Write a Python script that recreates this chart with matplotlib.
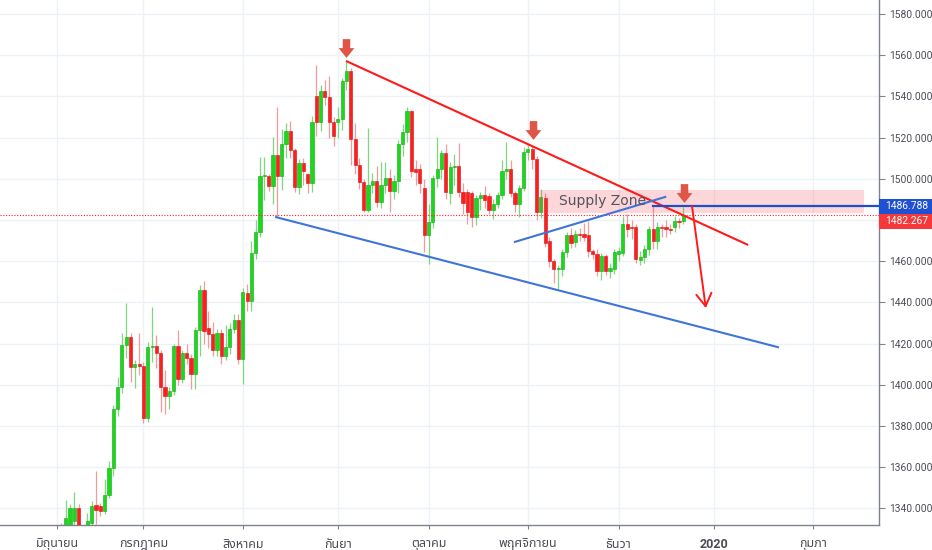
import matplotlib
matplotlib.use("Agg")
import matplotlib.pyplot as plt
import numpy as np
import pandas as pd
from matplotlib import font_manager
from matplotlib.ft2font import FT2Font
from matplotlib.path import Path
from matplotlib.patches import Rectangle
from matplotlib.transforms import blended_transform_factory

# ---------------- data ----------------
opens = [1305, 1327, 1324, 1331, 1334, 1340.4, 1327, 1328, 1333, 1341.7,
         1341.4, 1338.9, 1346.6, 1359.7, 1388.4, 1399.2, 1419.5, 1423.2, 1408.6, 1410.2,
         1409, 1383.8, 1418.4, 1418.9, 1415.3, 1399, 1394.6, 1397, 1418.9, 1402.7,
         1415.3, 1413.2, 1405.5, 1426.4, 1446, 1427.5, 1424.5, 1416.7, 1425.2, 1414,
         1418.4, 1427, 1431.3, 1412.7, 1444.7, 1440.7, 1464, 1474.2, 1501.2, 1501.6,
         1496.5, 1511.4, 1501.2, 1517, 1523, 1513.8, 1496, 1507.6, 1502.5, 1497.9,
         1540.2, 1527.7, 1542.4, 1539.7, 1527.5, 1527.5, 1529.2, 1547.3, 1552.3, 1519.2,
         1506.8, 1498.7, 1485.1, 1497, 1499, 1488.7, 1497, 1500.5, 1494, 1499,
         1517, 1522.6, 1532.8, 1505, 1505, 1495.5, 1472.6, 1479.1, 1500.2, 1505,
         1512.4, 1493.2, 1505.9, 1506.3, 1493.4, 1493.7, 1492.9, 1481.5, 1490.5, 1492,
         1491.6, 1484.8, 1488, 1492, 1503.8, 1504.6, 1492.9, 1488, 1495.7, 1512.9,
         1514.5, 1509.5, 1484, 1490.5, 1469.6, 1460.3, 1456.2, 1456.2, 1464.4, 1472.6,
         1469.3, 1473.4, 1473.4, 1472.6, 1465.2, 1463.6, 1455.4, 1462.7, 1455.4, 1456.2,
         1463.5, 1464.2, 1478, 1476.4, 1476.4, 1460.7, 1462.3, 1465.9, 1475.6, 1470,
         1476.7, 1476.4, 1475.8, 1476.4, 1479.7, 1479.7]
highs = [1328, 1333, 1344, 1342, 1348.2, 1342, 1331, 1338, 1343.8, 1358.4,
         1342.5, 1354.5, 1363, 1390, 1403.7, 1425, 1439.7, 1425, 1412, 1425,
         1411, 1421, 1437.8, 1424, 1417, 1407, 1399, 1420, 1426.5, 1417,
         1420, 1415, 1428, 1448.3, 1450.5, 1436, 1430.4, 1427, 1427, 1429.2,
         1430, 1434.6, 1434.6, 1447, 1449, 1470, 1479.8, 1510.6, 1510.6, 1502.5,
         1520.3, 1535, 1524, 1527, 1528, 1515, 1509.5, 1510, 1503, 1530.3,
         1555.4, 1545.5, 1548, 1550, 1530, 1534.8, 1549, 1557.5, 1554, 1527,
         1510, 1500, 1524.6, 1503, 1506, 1508, 1508, 1505, 1502, 1519,
         1526.6, 1535, 1533.5, 1509, 1507, 1500, 1488, 1502, 1520.5, 1514,
         1517, 1508.3, 1512, 1517.2, 1498, 1495, 1494, 1492, 1493.5, 1496.7,
         1493, 1490, 1493.5, 1509, 1518, 1509, 1494, 1497, 1515.6, 1516.8,
         1516, 1511, 1495, 1493, 1472, 1461, 1458, 1466, 1474, 1476,
         1475, 1476, 1478.5, 1479.7, 1466, 1466, 1464, 1463.5, 1459, 1466,
         1467, 1482, 1483, 1480, 1478, 1465, 1468, 1477, 1486.788, 1479,
         1478, 1480, 1478, 1482, 1481, 1486.2]
lows = [1304, 1320, 1322, 1329, 1331, 1324, 1321, 1326, 1330, 1332.4,
        1336.5, 1337.5, 1345, 1356, 1385, 1396, 1413, 1401.3, 1398.4, 1405,
        1381.4, 1382, 1411, 1408, 1386.8, 1386, 1388.5, 1395, 1400, 1401,
        1410, 1398, 1398, 1414, 1420, 1418, 1414, 1414, 1410, 1412,
        1415, 1425, 1410, 1400.5, 1436, 1436, 1461, 1472, 1489.5, 1494,
        1488, 1481.4, 1494.4, 1510, 1510, 1493.5, 1492.7, 1497, 1493, 1493.8,
        1521, 1523, 1536, 1520, 1516, 1520, 1523.5, 1543, 1506.5, 1502.5,
        1495, 1484, 1484, 1493, 1486.5, 1486, 1493, 1483.9, 1490, 1493,
        1511, 1518, 1501, 1497, 1493, 1464.4, 1458.8, 1476, 1496, 1500,
        1490, 1488, 1497, 1491.3, 1483, 1478, 1476.7, 1477.5, 1485, 1486,
        1483, 1480.7, 1486, 1490, 1500, 1491, 1484, 1481.5, 1494, 1509,
        1505, 1480, 1481, 1467, 1457, 1449.6, 1446.4, 1453, 1462, 1466.5,
        1467, 1470, 1470, 1462, 1461, 1453, 1451, 1453.5, 1452, 1454,
        1460, 1462.5, 1472, 1471, 1459, 1458, 1459, 1463, 1466, 1466,
        1472, 1472, 1473, 1474, 1476, 1478]
closes = [1327, 1324, 1335.5, 1340, 1340.4, 1327, 1327.5, 1333.8, 1341.4, 1339.3,
          1338.9, 1346.6, 1359.7, 1388.4, 1399.2, 1419.5, 1423.2, 1408.6, 1410.2, 1409,
          1383.8, 1418.4, 1418.9, 1415.3, 1399, 1394.6, 1397, 1418.9, 1402.7, 1415.3,
          1413.2, 1405.5, 1426.4, 1446.2, 1426, 1424.5, 1416.7, 1425.2, 1414, 1418.4,
          1427, 1431.3, 1412.7, 1445.1, 1440.7, 1464, 1474.2, 1501.2, 1501.6, 1496.5,
          1511.4, 1501.2, 1517, 1523, 1513.8, 1496, 1507.6, 1504, 1497.9, 1527.7,
          1527.7, 1542.4, 1539.7, 1527.5, 1520.7, 1529.2, 1547.3, 1552.3, 1519.5, 1506.8,
          1498.7, 1485.1, 1497, 1499, 1488.7, 1497, 1500.5, 1494, 1499, 1517,
          1522.6, 1532.8, 1503.6, 1503.3, 1497.8, 1472.5, 1479.1, 1500.2, 1505, 1512.4,
          1493.7, 1505.9, 1506.3, 1493.4, 1488.5, 1484, 1481.5, 1490.5, 1492, 1489.6,
          1484.8, 1488, 1492, 1503.8, 1504.6, 1492.9, 1488, 1495.7, 1512.9, 1514.5,
          1509.5, 1484, 1491, 1469, 1460.3, 1456.2, 1456.8, 1464.4, 1472.6, 1469,
          1473.4, 1472.6, 1471.8, 1465.2, 1463.6, 1455.4, 1462.7, 1455.4, 1456.5, 1464.4,
          1465, 1478, 1475.6, 1475.9, 1461, 1462.3, 1465.9, 1475.6, 1470, 1476.7,
          1476.2, 1475.8, 1475.2, 1479.7, 1478.9, 1482.267]

start_date = "2019-06-03"
month_labels = ["มิถุนายน", "กรกฎาคม", "สิงหาคม", "กันยา", "ตุลาคม",
                "พฤศจิกายน", "ธันวา", "2020", "กุมภา"]
price_ticks = [1340, 1360, 1380, 1400, 1420, 1440, 1460, 1480, 1500,
               1520, 1540, 1560, 1580]

# drawing annotations (bar index, price)
red_trend = [(66.9, 1557.2), (160.0, 1467.9)]
blue_lower = [(50.7, 1481.4), (166.9, 1418.3)]
blue_short = [(106.0, 1469.4), (140.8, 1491.2)]
resistance_level = 1486.788
resistance_start = 138
supply_zone = (111.8, 186.8, 1483.5, 1494.5)
supply_text = "Supply Zone"
down_arrows = [(66.9, 1563.3), (110.2, 1523.5), (145.2, 1493.3)]
projection = [(147.0, 1486.8), (150.2, 1437.3)]

# ---------------- fonts ----------------
def find_font(ch):
    names = []
    for f in font_manager.fontManager.ttflist:
        try:
            cm = FT2Font(f.fname).get_charmap()
        except Exception:
            continue
        if ord(ch) in cm:
            names.append(f.name)
    for pref in ["Noto Sans Thai", "Noto Sans Thai UI", "Loma", "Garuda", "Sarabun"]:
        if pref in names:
            return pref
    return names[0] if names else None

thai = find_font("ม")
thai_family = [thai, "DejaVu Sans"] if thai else ["DejaVu Sans"]

# ---------------- figure ----------------
W, H = 932, 550
fig = plt.figure(figsize=(W / 100, H / 100), dpi=100)
fig.patch.set_facecolor("white")
ax_left, ax_right, ax_bottom = 0, 879, 525
ax = fig.add_axes([0, (H - ax_bottom) / H, ax_right / W, ax_bottom / H])

n = len(closes)
idx = np.arange(n)
o = np.array(opens); h = np.array(highs); l = np.array(lows); c = np.array(closes)
up = c >= o

px_per_bar = 4.319
x0_px = 57.1
ax.set_xlim(-x0_px / px_per_bar, (ax_right - x0_px) / px_per_bar)
y_lo, y_hi = 1331.99, 1586.79
ax.set_ylim(y_lo, y_hi)

# grid
dates = pd.bdate_range(start_date, "2020-02-28")
month_first = []
seen = set()
for i, d in enumerate(dates):
    key = (d.year, d.month)
    if key not in seen:
        seen.add(key)
        month_first.append(i)
month_first = month_first[:len(month_labels)]
for m in month_first:
    ax.axvline(m, color="#eef1f6", lw=1, zorder=0)
for p in price_ticks:
    ax.axhline(p, color="#eef1f6", lw=1, zorder=0)

# candles
green, red = "#1ad81a", "#ff1e1e"
green_w, red_w = "#7fd77f", "#f59a9a"
ax.vlines(idx[up], l[up], h[up], color=green_w, lw=0.9, zorder=2)
ax.vlines(idx[~up], l[~up], h[~up], color=red_w, lw=0.9, zorder=2)
body_h = np.maximum(np.abs(c - o), 0.5)
body_b = np.minimum(o, c)
ax.bar(idx[up], body_h[up], bottom=body_b[up], width=0.74, color=green,
       edgecolor="#13a813", linewidth=0.4, zorder=3)
ax.bar(idx[~up], body_h[~up], bottom=body_b[~up], width=0.74, color=red,
       edgecolor="#d41010", linewidth=0.4, zorder=3)

# supply zone
zx0, zx1, zy0, zy1 = supply_zone
ax.add_patch(Rectangle((zx0, zy0), zx1 - zx0, zy1 - zy0, facecolor="#f23645",
                       alpha=0.2, edgecolor="none", zorder=4))
ax.text(zx0 + 4.3, (zy0 + zy1) / 2, supply_text, fontsize=10, color="#50555f",
        va="center", ha="left", zorder=6)

# last price dotted line
ax.axhline(closes[-1], color="#ff2020", lw=0.8, ls=(0, (1, 1.5)), zorder=5)

# trend lines
ax.plot(*zip(*red_trend), color="#ff1a1a", lw=1.5, zorder=5, solid_capstyle="butt")
ax.plot(*zip(*blue_lower), color="#3f74d8", lw=1.5, zorder=5)
ax.plot(*zip(*blue_short), color="#3f74d8", lw=1.5, zorder=5)
ax.plot([resistance_start, 250], [resistance_level] * 2, color="#1d4fc9", lw=1.6,
        zorder=5)

# projection arrow
ax.annotate("", xy=projection[1], xytext=projection[0],
            arrowprops=dict(arrowstyle="->,head_length=0.9,head_width=0.55",
                            color="#ff1a1a", lw=1.4, shrinkA=0, shrinkB=0,
                            mutation_scale=10), zorder=6)

# down block arrows
verts = [(-0.2, 0.5), (0.2, 0.5), (0.2, 0.02), (0.42, 0.02), (0, -0.5),
         (-0.42, 0.02), (-0.2, 0.02), (-0.2, 0.5)]
codes = [Path.MOVETO] + [Path.LINETO] * 6 + [Path.CLOSEPOLY]
arrow_marker = Path(verts, codes)
for ax_i, ay in down_arrows:
    ax.plot(ax_i, ay, marker=arrow_marker, markersize=13.5, color="#df5646",
            markeredgewidth=0, zorder=7, clip_on=False)

# price label boxes layout
ppu = ax_bottom / (y_hi - y_lo)  # px per unit
box_h = 15 / ppu
blue_c = resistance_level
red_c = min(closes[-1], blue_c - box_h)
covered_lo, covered_hi = red_c - box_h / 2 - 3 / ppu, blue_c + box_h / 2 + 3 / ppu

# axes styling
for s in ["left", "top"]:
    ax.spines[s].set_visible(False)
for s in ["right", "bottom"]:
    ax.spines[s].set_color("#7d828c")
    ax.spines[s].set_linewidth(1)
ax.yaxis.tick_right()
ax.set_yticks(price_ticks)
ax.set_yticklabels(["" if covered_lo <= p <= covered_hi else f"{p:.3f}"
                    for p in price_ticks], family="Roboto")
ax.tick_params(axis="y", length=4, color="#7d828c", labelsize=7.4,
               labelcolor="#4a4d55", pad=3)
ax.set_xticks(month_first)
ax.set_xticklabels(month_labels, family=thai_family)
ax.tick_params(axis="x", length=3, color="#7d828c", labelsize=9,
               labelcolor="#4a4d55", pad=6)
for lab in ax.get_xticklabels():
    if lab.get_text() == "2020":
        lab.set_fontweight("bold")
        lab.set_family(["Roboto", "DejaVu Sans"])

# price labels on axis
trans = blended_transform_factory(fig.transFigure, ax.transData)
for yc, col, val in [(blue_c, "#1e50d2", resistance_level),
                     (red_c, "#f5393b", closes[-1])]:
    ax.add_patch(Rectangle((ax_right / W, yc - box_h / 2), 1 - ax_right / W, box_h,
                           transform=trans, facecolor=col, edgecolor="none",
                           clip_on=False, zorder=8))
    ax.text((ax_right + 6) / W, yc, f"{val:.3f}", transform=trans, color="white",
            fontsize=7.4, family="Roboto", va="center", ha="left", zorder=9,
            clip_on=False)

fig.savefig("out.png", dpi=100, facecolor="white")
